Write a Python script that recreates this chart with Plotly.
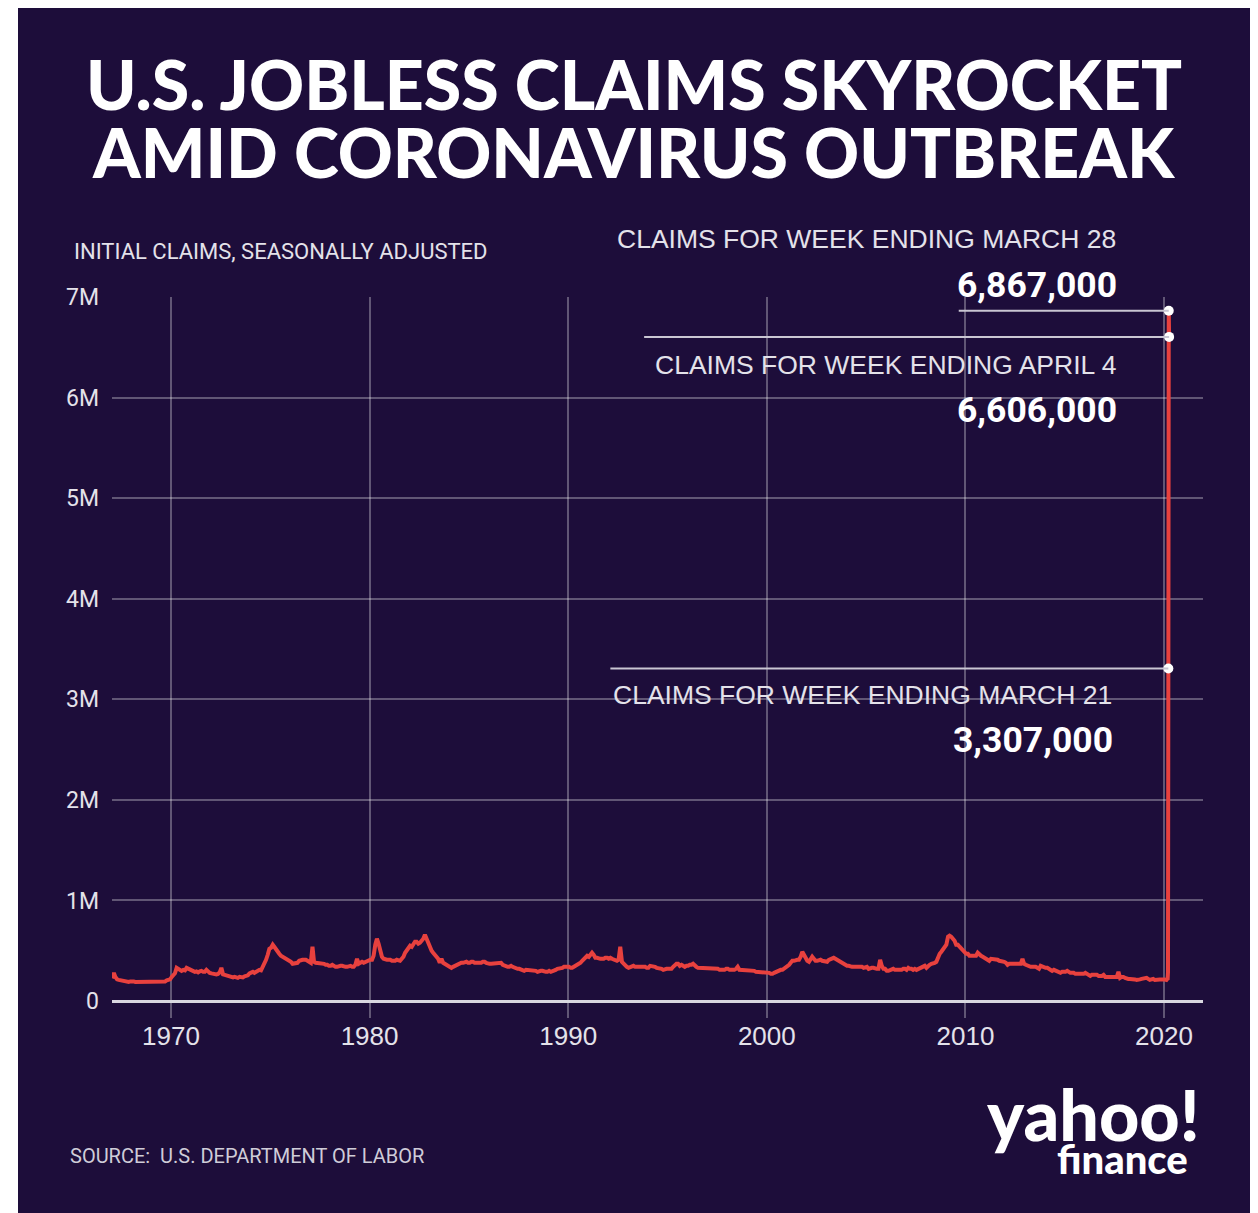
import plotly.graph_objects as go

# ---------------- DATA (initial claims, thousands, monthly readings) ----------------
claims_1960s = [
    225, 280, 240, 215, 210, 205, 205, 195, 195, 195, 190, 195,   # 1967
    200, 195, 190, 190, 195, 195, 190, 185, 190, 185, 190, 195,   # 1968
    190, 190, 185, 190, 185, 190, 190, 195, 195, 205, 210, 215,   # 1969
]
claims_1970s = [
    240, 260, 275, 330, 320, 300, 300, 310, 305, 330, 320, 310,   # 1970
    300, 290, 290, 295, 285, 295, 300, 290, 290, 310, 290, 280,   # 1971
    275, 270, 270, 265, 270, 285, 330, 265, 260, 255, 255, 250,   # 1972
    240, 235, 240, 235, 230, 240, 240, 235, 245, 250, 255, 275,   # 1973
    280, 290, 280, 290, 300, 310, 305, 340, 360, 410, 460, 520,   # 1974
    530, 560, 540, 510, 500, 470, 450, 440, 440, 420, 410, 400,   # 1975
    390, 370, 370, 370, 380, 400, 410, 410, 410, 410, 400, 390,   # 1976
    380, 540, 390, 380, 380, 380, 380, 370, 370, 360, 360, 350,   # 1977
    350, 360, 350, 340, 340, 350, 350, 350, 340, 340, 340, 350,   # 1978
    350, 340, 340, 360, 420, 370, 380, 390, 380, 390, 400, 410,   # 1979
]
claims_1980s = [
    410, 410, 450, 560, 620, 570, 500, 440, 420, 410, 410, 410,   # 1980
    410, 400, 400, 400, 410, 400, 400, 420, 440, 480, 510, 530,   # 1981
    550, 540, 570, 590, 590, 570, 580, 600, 620, 660, 620, 560,   # 1982
    530, 500, 480, 460, 440, 420, 380, 420, 380, 370, 360, 360,   # 1983
    350, 330, 340, 350, 350, 360, 370, 380, 380, 390, 390, 380,   # 1984
    380, 390, 390, 380, 380, 380, 380, 380, 390, 390, 380, 370,   # 1985
    370, 370, 370, 370, 370, 370, 380, 380, 360, 350, 350, 340,   # 1986
    340, 350, 340, 330, 330, 320, 320, 310, 300, 300, 310, 310,   # 1987
    310, 310, 300, 300, 300, 290, 300, 300, 300, 290, 290, 290,   # 1988
    300, 290, 300, 300, 310, 320, 320, 320, 330, 340, 340, 340,   # 1989
]
claims_1990s = [
    340, 330, 330, 340, 350, 350, 360, 380, 400, 420, 440, 450,   # 1990
    440, 470, 480, 460, 430, 430, 420, 420, 420, 420, 430, 430,   # 1991
    420, 430, 420, 410, 410, 400, 410, 540, 390, 370, 350, 340,   # 1992
    330, 340, 350, 350, 340, 340, 350, 340, 340, 340, 340, 330,   # 1993
    330, 350, 350, 340, 340, 330, 330, 320, 320, 310, 320, 320,   # 1994
    320, 320, 320, 340, 360, 370, 370, 350, 360, 350, 340, 350,   # 1995
    350, 360, 360, 370, 350, 340, 330, 330, 320, 330, 330, 330,   # 1996
    330, 320, 320, 320, 320, 320, 320, 310, 310, 310, 310, 320,   # 1997
    320, 310, 310, 310, 310, 320, 340, 310, 310, 300, 300, 300,   # 1998
    300, 300, 300, 310, 300, 290, 290, 290, 290, 290, 290, 280,   # 1999
]
claims_2000s = [
    280, 280, 270, 270, 280, 290, 290, 300, 310, 310, 320, 330,   # 2000
    340, 360, 380, 400, 400, 410, 410, 410, 440, 490, 460, 420,   # 2001
    400, 390, 410, 440, 420, 400, 400, 410, 410, 400, 400, 400,   # 2002
    390, 410, 420, 430, 430, 420, 410, 400, 390, 380, 360, 360,   # 2003
    350, 350, 340, 340, 340, 340, 340, 340, 340, 340, 330, 340,   # 2004
    340, 320, 330, 330, 330, 320, 320, 320, 410, 350, 320, 320,   # 2005
    300, 300, 310, 310, 320, 310, 310, 310, 310, 310, 320, 320,   # 2006
    310, 330, 320, 320, 310, 320, 310, 320, 320, 330, 340, 350,   # 2007
    330, 350, 360, 370, 370, 380, 390, 440, 470, 490, 520, 550,   # 2008
    560, 640, 650, 640, 620, 600, 560, 560, 540, 520, 500, 480,   # 2009
]
claims_2010s = [
    470, 470, 450, 450, 450, 460, 450, 480, 460, 450, 440, 430,   # 2010
    430, 410, 400, 420, 420, 420, 420, 410, 400, 400, 400, 390,   # 2011
    380, 360, 370, 370, 370, 380, 370, 370, 370, 370, 420, 370,   # 2012
    360, 350, 350, 340, 340, 340, 340, 330, 320, 350, 340, 340,   # 2013
    330, 330, 320, 310, 300, 310, 300, 300, 290, 280, 290, 290,   # 2014
    290, 300, 290, 280, 280, 280, 270, 270, 270, 260, 270, 270,   # 2015
    280, 270, 260, 250, 260, 260, 260, 260, 250, 250, 250, 260,   # 2016
    240, 240, 240, 240, 240, 240, 240, 240, 290, 230, 240, 240,   # 2017
    230, 220, 220, 220, 220, 220, 215, 210, 210, 215, 220, 225,   # 2018
    220, 230, 220, 210, 215, 220, 210, 215, 210, 215, 215, 220,   # 2019
]
weeks_2020 = ["2020-01-04", "2020-01-11", "2020-01-18", "2020-01-25", "2020-02-01",
              "2020-02-08", "2020-02-15", "2020-02-22", "2020-02-29", "2020-03-07",
              "2020-03-14", "2020-03-21", "2020-03-28", "2020-04-04"]
claims_2020 = [214, 207, 223, 216, 201, 205, 215, 220, 217, 211, 282, 3307, 6867, 6606]

highlight_dates = ["2020-03-28", "2020-04-04", "2020-03-21"]
highlight_values = [6867000, 6606000, 3307000]
highlight_titles = ["CLAIMS FOR WEEK ENDING MARCH 28",
                    "CLAIMS FOR WEEK ENDING APRIL 4",
                    "CLAIMS FOR WEEK ENDING MARCH 21"]
highlight_labels = ["6,867,000", "6,606,000", "3,307,000"]

y_tick_values = [0, 1e6, 2e6, 3e6, 4e6, 5e6, 6e6, 7e6]
y_tick_labels = ["0", "1M", "2M", "3M", "4M", "5M", "6M", "7M"]

# ---------------- build series ----------------
monthly = claims_1960s + claims_1970s + claims_1980s + claims_1990s + claims_2000s + claims_2010s
dates = []
for i in range(len(monthly)):
    yr = 1967 + i // 12
    mo = i % 12 + 1
    dates.append(f"{yr}-{mo:02d}-15")
dates += weeks_2020
values = [v * 1000 for v in monthly] + [v * 1000 for v in claims_2020]

# ---------------- layout helpers (page has an 8px body margin) ----------------
OFF = 8
W, H = 1250, 1205
ML, MR, MT, MB = 104, 55, 289, 195
PW = W - ML - MR
PH = H - MT - MB

def pxx(x):  # x in reference-picture pixels -> paper
    return (x - OFF - ML) / PW

def pxy(y):  # y in reference-picture pixels -> paper
    return (H - MB - (y - OFF)) / PH

BG = "#1d0d3a"
RED = "#e8413e"
TXT = "#e4e2ea"
NARROW = "Roboto, Liberation Sans Narrow, sans-serif"
REG = "Liberation Sans, Arial, Helvetica, sans-serif"
HEAVY = "Lato, Inter, Open Sans, sans-serif"

fig = go.Figure()
fig.add_trace(go.Scatter(x=dates, y=values, mode="lines",
                         line=dict(color=RED, width=4), hoverinfo="skip",
                         showlegend=False))
fig.add_trace(go.Scatter(x=highlight_dates, y=highlight_values, mode="markers",
                         marker=dict(color="white", size=10), hoverinfo="skip",
                         showlegend=False))

shapes = [
    dict(type="rect", xref="paper", yref="paper", x0=pxx(18), x1=pxx(1250),
         y0=pxy(1225), y1=pxy(7), fillcolor=BG, line=dict(width=0), layer="below"),
]
line_lengths = [210, 525, 558]
for d, v, L in zip(highlight_dates, highlight_values, line_lengths):
    shapes.append(dict(type="line", xref="x", yref="y", xsizemode="pixel", xanchor=d,
                       x0=-L, x1=0, y0=v, y1=v,
                       line=dict(color="#c9c6d2", width=2), layer="above"))

ann = []
# title
ann.append(dict(text="U.S. JOBLESS CLAIMS SKYROCKET", xref="paper", yref="paper",
                x=pxx(634), y=pxy(84), xanchor="center", yanchor="middle", showarrow=False,
                font=dict(family=HEAVY, size=68, color="white", weight=900)))
ann.append(dict(text="AMID CORONAVIRUS OUTBREAK", xref="paper", yref="paper",
                x=pxx(634), y=pxy(151), xanchor="center", yanchor="middle", showarrow=False,
                font=dict(family=HEAVY, size=68, color="white", weight=900)))
# axis caption
ann.append(dict(text="INITIAL CLAIMS, SEASONALLY ADJUSTED", xref="paper", yref="paper",
                x=pxx(72), y=pxy(251), xanchor="left", yanchor="middle", showarrow=False,
                font=dict(family=NARROW, size=22, color=TXT)))
# callouts
title_y = [239, 365, 695]
value_y = [285, 410, 740]
title_x = [1118, 1118, 1114]
for t, lab, ty, vy, tx in zip(highlight_titles, highlight_labels, title_y, value_y, title_x):
    ann.append(dict(text=t, xref="paper", yref="paper", x=pxx(tx), y=pxy(ty),
                    xanchor="right", yanchor="middle", showarrow=False,
                    font=dict(family=REG, size=26.5, color=TXT)))
    ann.append(dict(text=lab, xref="paper", yref="paper", x=pxx(tx + 1), y=pxy(vy),
                    xanchor="right", yanchor="middle", showarrow=False,
                    font=dict(family=NARROW, size=35.5, color="white", weight="bold")))
# source
ann.append(dict(text="SOURCE:  U.S. DEPARTMENT OF LABOR", xref="paper", yref="paper",
                x=pxx(68), y=pxy(1156), xanchor="left", yanchor="middle", showarrow=False,
                font=dict(family=NARROW, size=20, color="#cfccd8")))
# logo
ann.append(dict(text="yahoo!", xref="paper", yref="paper",
                x=pxx(1202), y=pxy(1114), xanchor="right", yanchor="middle", showarrow=False,
                font=dict(family=HEAVY, size=70, color="white", weight=900)))
ann.append(dict(text="finance", xref="paper", yref="paper",
                x=pxx(1190), y=pxy(1159), xanchor="right", yanchor="middle", showarrow=False,
                font=dict(family=HEAVY, size=40, color="white", weight=900)))

fig.update_layout(
    width=W, height=H,
    margin=dict(l=ML, r=MR, t=MT, b=MB, pad=0),
    paper_bgcolor="white", plot_bgcolor=BG,
    shapes=shapes, annotations=ann, showlegend=False,
    xaxis=dict(type="date", range=["1967-01-12", "2021-12-18"],
               tick0="1970-01-01", dtick="M120", tickformat="%Y",
               showgrid=True, gridcolor="rgba(255,255,255,0.30)", gridwidth=1.5,
               zeroline=False, showline=False, ticks="",
               tickfont=dict(family=REG, size=26, color=TXT)),
    yaxis=dict(range=[-0.169e6, 7.003e6], tickvals=y_tick_values, ticktext=y_tick_labels,
               showgrid=True, gridcolor="rgba(255,255,255,0.30)", gridwidth=1.5,
               zeroline=True, zerolinecolor="#d9d7e0", zerolinewidth=3,
               showline=False, ticks="", ticklabelstandoff=12,
               tickfont=dict(family=NARROW, size=23, color=TXT)),
)

fig.write_html("out.html")
